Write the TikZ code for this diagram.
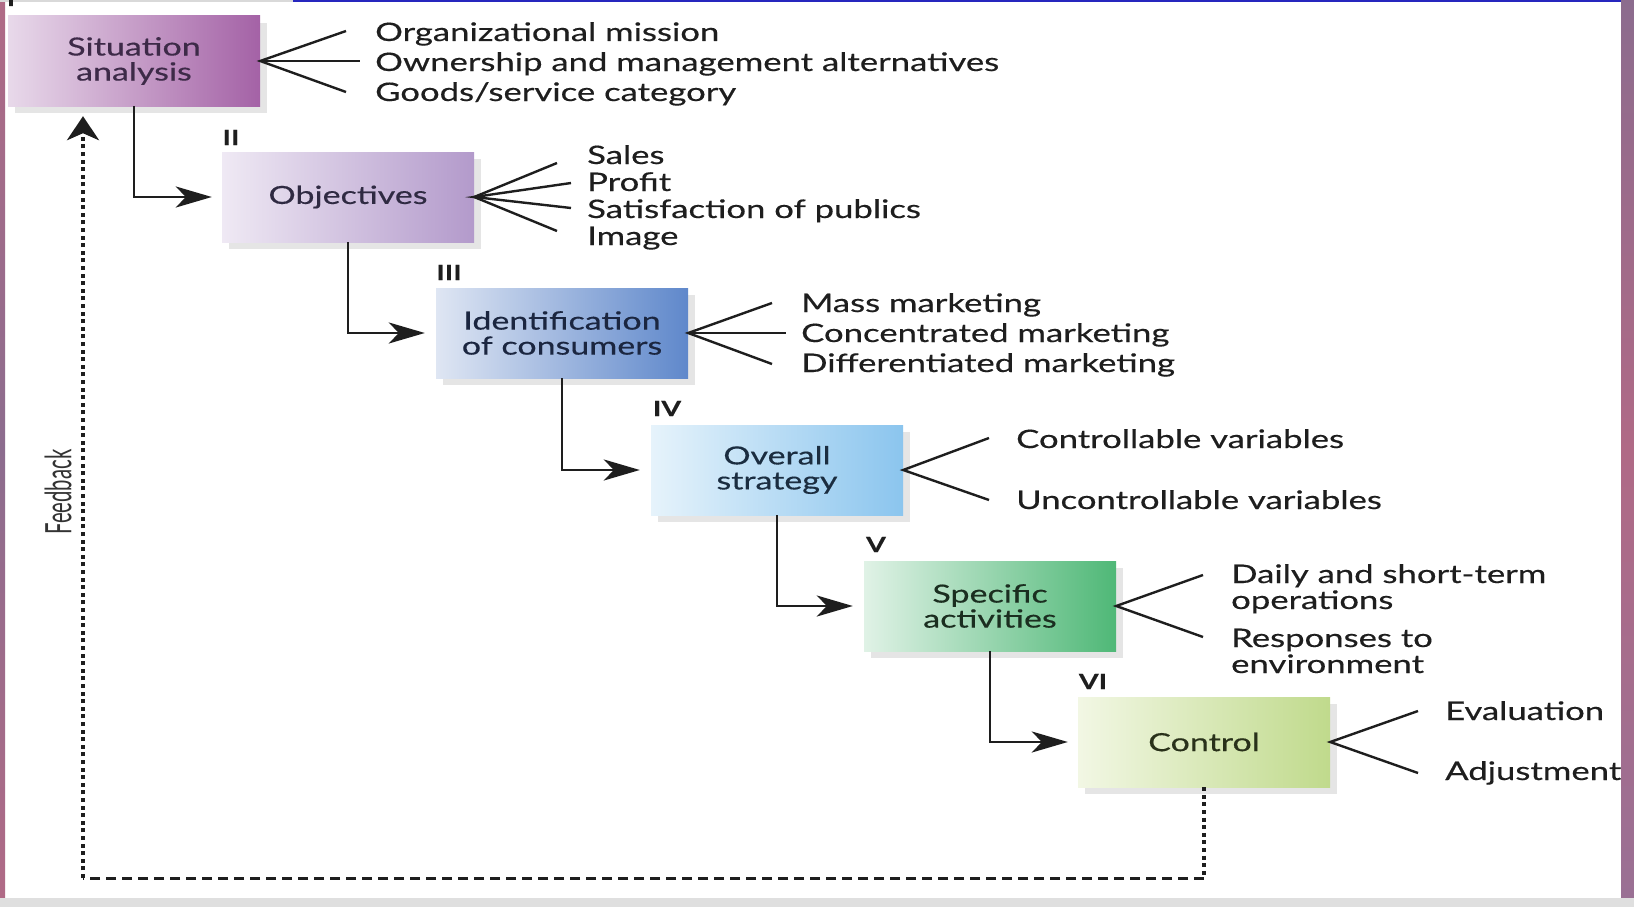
\documentclass[tikz,border=0pt]{standalone}
\usepackage{fontspec}
\setmainfont{Lato}[FakeStretch=1.36,FakeBold=0.4]
\newfontfamily\fbfont{Lato}
\usetikzlibrary{arrows.meta,shadows}
\definecolor{bAL}{HTML}{E8D9EA}\definecolor{bAR}{HTML}{A462A6}\definecolor{bAT}{HTML}{3D2A48}
\definecolor{bBL}{HTML}{EFE9F4}\definecolor{bBR}{HTML}{B39ACB}\definecolor{bBT}{HTML}{2F2A42}
\definecolor{bCL}{HTML}{DFE6F3}\definecolor{bCR}{HTML}{5F88CB}\definecolor{bCT}{HTML}{1B2640}
\definecolor{bDL}{HTML}{E6F3FB}\definecolor{bDR}{HTML}{8BC5EE}\definecolor{bDT}{HTML}{1B2D40}
\definecolor{bEL}{HTML}{E0F2E6}\definecolor{bER}{HTML}{4FB877}\definecolor{bET}{HTML}{1B2E20}
\definecolor{bFL}{HTML}{F2F7E4}\definecolor{bFR}{HTML}{C0DA8C}\definecolor{bFT}{HTML}{29311A}
\definecolor{frameA}{HTML}{8C6C8E}\definecolor{frameB}{HTML}{B06A86}\definecolor{frameC}{HTML}{9A7094}
\definecolor{inkc}{HTML}{1E1E1E}
\begin{document}
\begin{tikzpicture}[x=1pt,y=-1pt,
  stagebox/.style={minimum width=252pt, minimum height=90pt, inner sep=0pt, align=center,
    font=\fontsize{25}{25}\selectfont,
    drop shadow={shadow xshift=7pt, shadow yshift=-7pt, opacity=0.10, fill=black}},
  item/.style={anchor=base west, inner sep=0pt, align=left, text=inkc,
    font=\fontsize{25.5}{26}\selectfont},
  fan/.style={line width=2.4pt, draw=inkc},
  flow/.style={line width=2.8pt, draw=inkc, -{Stealth[length=36pt,width=21pt,inset=10pt]}},
  numeral/.style={anchor=base, inner sep=0pt, text=inkc, font=\fontsize{21}{21}\selectfont\bfseries},
  fbv/.style={line width=3.6pt, draw=inkc, dash pattern=on 4pt off 3.6pt},
  fbh/.style={line width=3pt, draw=inkc, dash pattern=on 10pt off 6pt},
]
\useasboundingbox (0,0) rectangle (1634,907);
\fill[white] (0,0) rectangle (1634,907);
% frame
\shade[top color=frameA, bottom color=frameC, middle color=frameB] (1621,0) rectangle (1634,898);
\shade[top color=frameB, bottom color=frameB, middle color=frameA] (0,0) rectangle (5,898);
\fill[gray!25] (0,898) rectangle (1634,907);
\fill[black!15] (0,0) rectangle (293,2.5);
\fill[blue!70!black!85] (293,0) rectangle (1621,2.5);

% stage boxes
\node[stagebox, left color=bAL, right color=bAR, text=bAT] (b1) at (134,61) {Situation\\analysis};
\node[stagebox, left color=bBL, right color=bBR, text=bBT] (b2) at (348,197) {Objectives};
\node[stagebox, left color=bCL, right color=bCR, text=bCT] (b3) at (562,333) {Identification\\of consumers};
\node[stagebox, left color=bDL, right color=bDR, text=bDT] (b4) at (777,470) {Overall\\strategy};
\node[stagebox, left color=bEL, right color=bER, text=bET] (b5) at (990,606) {Specific\\activities};
\node[stagebox, left color=bFL, right color=bFR, text=bFT] (b6) at (1204,742) {Control};

% numerals
\node[numeral] (n1) at (11,6) {I};
\node[numeral] (n2) at (231,145) {II};
\node[numeral] (n3) at (449,280) {III};
\node[numeral] (n4) at (667,416) {IV};
\node[numeral] (n5) at (876,552) {V};
\node[numeral] (n6) at (1093,689) {VI};

% flow arrows
\draw[flow] (b1.south) |- ([xshift=-10pt]b2.west);
\draw[flow] (b2.south) |- ([xshift=-11pt]b3.west);
\draw[flow] (b3.south) |- ([xshift=-11pt]b4.west);
\draw[flow] (b4.south) |- ([xshift=-11pt]b5.west);
\draw[flow] (b5.south) |- ([xshift=-10pt]b6.west);

% items 1
\node[item] (t11) at (375,41) {Organizational mission};
\node[item] (t12) at (375,71) {Ownership and management alternatives};
\node[item] (t13) at (375,101) {Goods/service category};
\coordinate (f11) at (346,31);
\coordinate (f12) at (360,61);
\coordinate (f13) at (346,92);
\draw[fan] (f11) -- (b1.east) -- (f13);
\draw[fan] (b1.east) -- (f12);

% items 2
\node[item] (t21) at (587,164) {Sales};
\node[item] (t22) at (587,191) {Profit};
\node[item] (t23) at (587,218) {Satisfaction of publics};
\node[item] (t24) at (587,245) {Image};
\coordinate (f21) at (557,163);
\coordinate (f22) at (571,183);
\coordinate (f23) at (571,208);
\coordinate (f24) at (557,231);
\draw[fan] (f21) -- (b2.east) -- (f24);
\draw[fan] (f22) -- (b2.east) -- (f23);

% items 3
\node[item] (t31) at (801,312) {Mass marketing};
\node[item] (t32) at (801,342) {Concentrated marketing};
\node[item] (t33) at (801,372) {Differentiated marketing};
\coordinate (f31) at (772,303);
\coordinate (f32) at (786,333);
\coordinate (f33) at (772,364);
\draw[fan] (f31) -- (b3.east) -- (f33);
\draw[fan] (b3.east) -- (f32);

% items 4
\node[item] (t41) at (1016,448) {Controllable variables};
\node[item] (t42) at (1016,509) {Uncontrollable variables};
\coordinate (f41) at (989,438);
\coordinate (f42) at (989,500);
\draw[fan] (f41) -- (b4.east) -- (f42);

% items 5 (base anchor = last line)
\node[item] (t51) at (1231,609) {Daily and short-term\\operations};
\node[item] (t52) at (1231,673) {Responses to\\environment};
\coordinate (f51) at (1203,575);
\coordinate (f52) at (1203,637);
\draw[fan] (f51) -- (b5.east) -- (f52);

% items 6
\node[item] (t61) at (1445,720) {Evaluation};
\node[item] (t62) at (1445,780) {Adjustment};
\coordinate (f61) at (1418,711);
\coordinate (f62) at (1418,773);
\draw[fan] (f61) -- (b6.east) -- (f62);

% feedback loop
\coordinate (fb1) at (1204,878);
\coordinate (fb2) at (83,878);
\draw[fbv] (b6.south) -- (fb1);
\draw[fbh] (fb1) -- (fb2);
\draw[fbv, -{Stealth[length=24pt,width=32pt,inset=7pt]}] (fb2) -- ([yshift=-10pt]b1.south -| fb2);
\node[rotate=90, inner sep=0pt, text=black!80] (fbl) at (58,492) {\scalebox{0.78}[1.4]{\fbfont\fontsize{26}{26}\selectfont Feedback}};
\end{tikzpicture}
\end{document}
